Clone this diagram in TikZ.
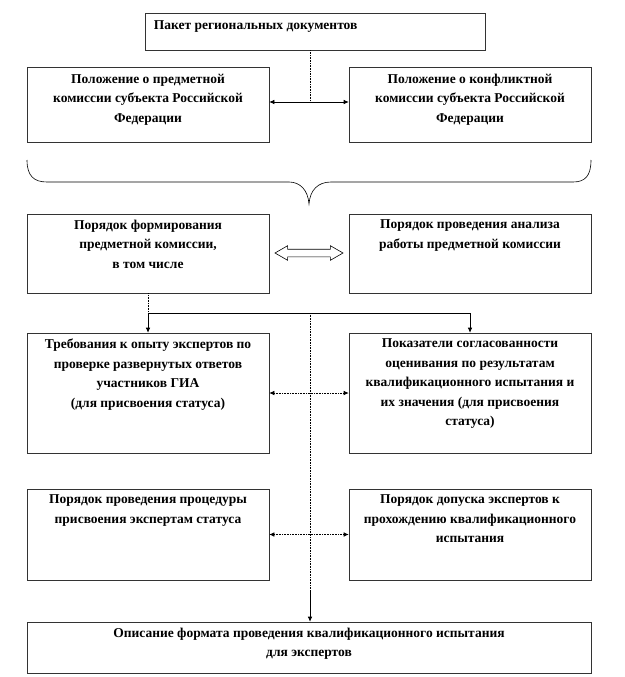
\documentclass[tikz,border=0pt]{standalone}
\usepackage{fontspec}
\setmainfont{Liberation Serif}
\usetikzlibrary{positioning,shapes.arrows,arrows.meta}
\tikzset{>={Latex[length=5pt,width=4.5pt]}}

\begin{document}
\begin{tikzpicture}[x=1pt,y=-1pt]
\useasboundingbox (0,0) rectangle (624,677);
\begin{scope}[every node/.style={draw=black!80,line width=0.6pt,minimum width=242pt,inner sep=0pt}]
\node (paket) [minimum width=340pt,minimum height=37pt] at (315,31.5) {};
\node (polPred) [minimum height=75pt] at (148,104.5) {};
\node (polKonf) [minimum height=75pt] at (470,104.5) {};
\node (porForm) [minimum height=79pt] at (148,253.5) {};
\node (porAnal) [minimum height=79pt] at (470,253.5) {};
\node (treb) [minimum height=120pt] at (148,393) {};
\node (pokaz) [minimum height=120pt] at (470,393) {};
\node (porProc) [minimum height=91pt] at (148,534.5) {};
\node (porDop) [minimum height=91pt] at (470,534.5) {};
\node (opis) [minimum width=564pt,minimum height=51pt] at (309,647.5) {};
\end{scope}
\begin{scope}[every node/.style={align=center,inner sep=0pt,font=\fontsize{13.5}{19.5}\selectfont\bfseries}]
\node (paketT) [below right=8pt and 9pt of paket.north west] {Пакет региональных документов};
\node (polPredT) [below=7pt of polPred.north] {Положение о предметной\\комиссии субъекта Российской\\Федерации};
\node (polKonfT) [below=7pt of polKonf.north] {Положение о конфликтной\\комиссии субъекта Российской\\Федерации};
\node (porFormT) [below=6pt of porForm.north] {Порядок формирования\\предметной комиссии,\\в том числе};
\node (porAnalT) [below=6pt of porAnal.north] {Порядок проведения анализа\\работы предметной комиссии};
\node (trebT) [below=6pt of treb.north] {Требования к опыту экспертов по\\проверке развернутых ответов\\участников ГИА\\(для присвоения статуса)};
\node (pokazT) [below=6pt of pokaz.north] {Показатели согласованности\\оценивания по результатам\\квалификационного испытания и\\их значения (для присвоения\\статуса)};
\node (porProcT) [below=6pt of porProc.north] {Порядок проведения процедуры\\присвоения экспертам статуса};
\node (porDopT) [below=6pt of porDop.north] {Порядок допуска экспертов к\\прохождению квалификационного\\испытания};
\node (opisT) [below=6pt of opis.north] {Описание формата проведения квалификационного испытания\\для экспертов};
\end{scope}
\node (dbl) [double arrow,draw,line width=0.6pt,minimum height=68pt,inner xsep=0pt,inner ysep=3.5pt,
  double arrow head extend=3.5pt,double arrow tip angle=60] at (309,253) {};
\begin{scope}[line width=0.6pt]
\coordinate (mid1) at (310,102);
\coordinate (split) at (148,313);
\coordinate (spine) at (310,313);
\coordinate (spineLow) at (310,592);
\draw [densely dotted] (paket.south -| mid1) -- (mid1);
\draw [<->] (polPred.east |- mid1) -- (polKonf.west |- mid1);
% brace under the first row
\draw (27,160) .. controls (27,176) and (34,182) .. (47,182) -- (289,182)
  .. controls (300,182) and (308,190) .. (309,204)
  .. controls (310,190) and (318,182) .. (331,182) -- (573,182)
  .. controls (585,182) and (591,176) .. (591,160);
\draw [densely dotted] (porForm.south) -- (split);
\draw [->] (split) -- (treb.north);
\draw [->] (split) -| (pokaz.north);
\draw [densely dotted] (spine) -- (spineLow);
\draw [->] (spineLow) -- (opis.north -| spine);
\draw [densely dotted,<->] (treb.east) -- (pokaz.west);
\draw [densely dotted,<->] (porProc.east) -- (porDop.west);
\end{scope}
\end{tikzpicture}
\end{document}
